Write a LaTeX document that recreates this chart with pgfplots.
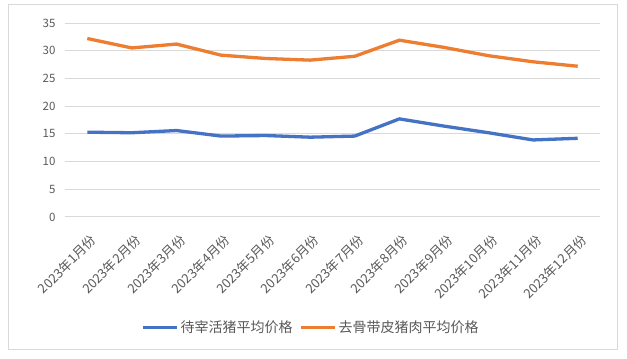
\documentclass[border=0pt]{standalone}
\usepackage{pgfplots}
\pgfplotsset{compat=1.18}
\usepackage{fontspec}
\setmainfont{Noto Sans CJK SC}
\definecolor{sblue}{HTML}{4472C4}
\definecolor{sorange}{HTML}{ED7D31}
\definecolor{gridc}{HTML}{D9D9D9}
\definecolor{txt}{HTML}{595959}
\begin{document}
\begin{tikzpicture}[x=1pt,y=1pt]
\path[use as bounding box] (0,0) rectangle (627,359);
\draw[gridc, line width=1pt] (8,9) rectangle (617,354);
\begin{axis}[
  at={(65pt,142pt)}, anchor=south west,
  scale only axis, width=535pt, height=194pt,
  xmin=-0.5, xmax=11.5, ymin=0, ymax=35,
  ytick={0,5,...,35},
  xtick={0,...,11},
  xticklabels={2023年1月份,2023年2月份,2023年3月份,2023年4月份,2023年5月份,2023年6月份,2023年7月份,2023年8月份,2023年9月份,2023年10月份,2023年11月份,2023年12月份},
  ticklabel style={font=\fontsize{11.5}{13}\selectfont, text=txt},
  x tick label style={xshift=2pt, yshift=-15pt, rotate=45, anchor=north east, inner sep=1pt, font=\fontsize{13}{15}\selectfont},
  /pgf/number format/assume math mode=true,
  axis line style={draw=none},
  major tick length=0pt,
  ymajorgrids, grid style={gridc, line width=1pt},
  yticklabel style={xshift=-6pt},
  legend style={at={(0.46,-0.57)}, anchor=center, draw=none, legend columns=2,
    font=\fontsize{14}{16}\selectfont, text=txt, /tikz/every even column/.append style={column sep=5pt}},
  legend image code/.code={\draw[#1, line width=3pt] (0pt,0pt) -- (34pt,0pt);},
]
\addplot[sblue, line width=3.3pt, no marks] coordinates {
(0,15.3) (1,15.2) (2,15.6) (3,14.6) (4,14.7) (5,14.4) (6,14.6) (7,17.7) (8,16.4) (9,15.2) (10,13.9) (11,14.2)};
\addlegendentry{待宰活猪平均价格}
\addplot[sorange, line width=3.3pt, no marks] coordinates {
(0,32.2) (1,30.5) (2,31.2) (3,29.2) (4,28.6) (5,28.3) (6,29.0) (7,31.9) (8,30.6) (9,29.1) (10,28.0) (11,27.2)};
\addlegendentry{去骨带皮猪肉平均价格}
\end{axis}
\end{tikzpicture}
\end{document}
